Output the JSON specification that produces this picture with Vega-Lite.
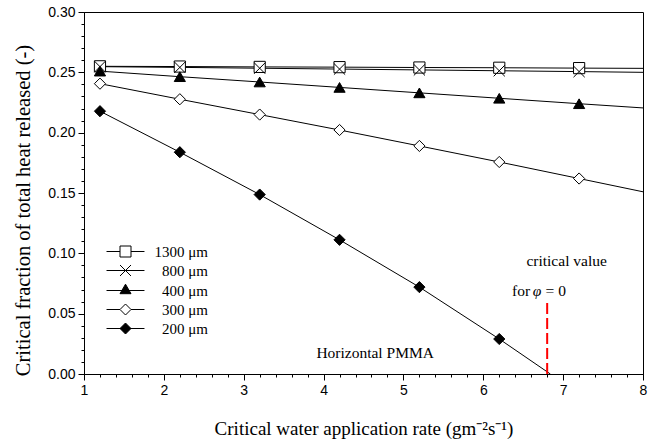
{
  "$schema": "https://vega.github.io/schema/vega-lite/v6.json",
  "width": 559,
  "height": 362,
  "autosize": "none",
  "padding": {"left": 84, "top": 12, "right": 16, "bottom": 69},
  "background": "white",
  "config": {
    "view": {"stroke": "black", "strokeWidth": 1},
    "axis": {
      "grid": false,
      "domainColor": "black",
      "tickColor": "black",
      "labelColor": "black",
      "titleColor": "black",
      "labelFont": "Liberation Sans",
      "labelFontSize": 14,
      "titleFont": "Liberation Serif",
      "titleFontSize": 19,
      "titleFontWeight": "normal"
    }
  },
  "datasets": {
    "curves": [
      {"d": "1300 μm", "x": 1.2, "y": 0.2550},
      {"d": "1300 μm", "x": 2.2, "y": 0.2548},
      {"d": "1300 μm", "x": 3.2, "y": 0.2545},
      {"d": "1300 μm", "x": 4.2, "y": 0.2543},
      {"d": "1300 μm", "x": 5.2, "y": 0.2540},
      {"d": "1300 μm", "x": 6.2, "y": 0.2538},
      {"d": "1300 μm", "x": 7.2, "y": 0.2535},
      {"d": "1300 μm", "x": 8, "y": 0.2533, "end": true},
      {"d": "800 μm", "x": 1.2, "y": 0.2547},
      {"d": "800 μm", "x": 2.2, "y": 0.2541},
      {"d": "800 μm", "x": 3.2, "y": 0.2534},
      {"d": "800 μm", "x": 4.2, "y": 0.2527},
      {"d": "800 μm", "x": 5.2, "y": 0.2520},
      {"d": "800 μm", "x": 6.2, "y": 0.2513},
      {"d": "800 μm", "x": 7.2, "y": 0.2506},
      {"d": "800 μm", "x": 8, "y": 0.2500, "end": true},
      {"d": "400 μm", "x": 1.2, "y": 0.2510},
      {"d": "400 μm", "x": 2.2, "y": 0.2464},
      {"d": "400 μm", "x": 3.2, "y": 0.2420},
      {"d": "400 μm", "x": 4.2, "y": 0.2375},
      {"d": "400 μm", "x": 5.2, "y": 0.2330},
      {"d": "400 μm", "x": 6.2, "y": 0.2285},
      {"d": "400 μm", "x": 7.2, "y": 0.2240},
      {"d": "400 μm", "x": 8, "y": 0.2205, "end": true},
      {"d": "300 μm", "x": 1.2, "y": 0.2406},
      {"d": "300 μm", "x": 2.2, "y": 0.2277},
      {"d": "300 μm", "x": 3.2, "y": 0.2150},
      {"d": "300 μm", "x": 4.2, "y": 0.2022},
      {"d": "300 μm", "x": 5.2, "y": 0.1890},
      {"d": "300 μm", "x": 6.2, "y": 0.1757},
      {"d": "300 μm", "x": 7.2, "y": 0.1620},
      {"d": "300 μm", "x": 8, "y": 0.1510, "end": true},
      {"d": "200 μm", "x": 1.2, "y": 0.2178},
      {"d": "200 μm", "x": 2.2, "y": 0.1838},
      {"d": "200 μm", "x": 3.2, "y": 0.1487},
      {"d": "200 μm", "x": 4.2, "y": 0.1112},
      {"d": "200 μm", "x": 5.2, "y": 0.0720},
      {"d": "200 μm", "x": 6.2, "y": 0.0290},
      {"d": "200 μm", "x": 6.84, "y": 0.0, "end": true}
    ]
  },
  "resolve": {
    "scale": {"shape": "independent", "fill": "independent"},
    "axis": {"x": "independent", "y": "independent"}
  },
  "layer": [
    {
      "data": {"name": "curves"},
      "mark": {"type": "line", "color": "black", "strokeWidth": 1},
      "encoding": {
        "x": {
          "field": "x", "type": "quantitative",
          "scale": {"domain": [1, 8], "nice": false, "zero": false},
          "axis": {
            "orient": "bottom",
            "title": "Critical water application rate (gm⁻²s⁻¹)",
            "values": [1, 2, 3, 4, 5, 6, 7, 8],
            "format": "d",
            "tickSize": 6,
            "labelPadding": 3,
            "titlePadding": 22,
            "labelOverlap": false,
            "labelFlush": false
          }
        },
        "y": {
          "field": "y", "type": "quantitative",
          "scale": {"domain": [0, 0.3], "nice": false},
          "axis": {
            "orient": "left",
            "title": "Critical fraction of total heat released (-)",
            "titleFontSize": 20.5,
            "values": [0, 0.05, 0.1, 0.15, 0.2, 0.25, 0.3],
            "format": ".2f",
            "tickSize": 6,
            "labelPadding": 3,
            "titleAngle": -90,
            "titleAlign": "center",
            "titleBaseline": "middle",
            "titleX": -61,
            "titleY": 198,
            "labelOverlap": false,
            "labelFlush": false
          }
        },
        "detail": {"field": "d"}
      }
    },
    {
      "data": {"name": "curves"},
      "transform": [{"filter": "!datum.end"}],
      "mark": {"type": "point", "filled": true, "stroke": "black", "strokeWidth": 1, "size": 125, "opacity": 1},
      "encoding": {
        "x": {
          "field": "x", "type": "quantitative",
          "axis": {
            "orient": "bottom",
            "values": [1,1.2,1.4,1.6,1.8,2,2.2,2.4,2.6,2.8,3,3.2,3.4,3.6,3.8,4,4.2,4.4,4.6,4.8,5,5.2,5.4,5.6,5.8,6,6.2,6.4,6.6,6.8,7,7.2,7.4,7.6,7.8,8],
            "labels": false,
            "domain": false,
            "title": null,
            "tickSize": 3
          }
        },
        "y": {
          "field": "y", "type": "quantitative",
          "axis": {
            "orient": "left",
            "values": [0,0.01,0.02,0.03,0.04,0.05,0.06,0.07,0.08,0.09,0.1,0.11,0.12,0.13,0.14,0.15,0.16,0.17,0.18,0.19,0.2,0.21,0.22,0.23,0.24,0.25,0.26,0.27,0.28,0.29,0.3],
            "labels": false,
            "domain": false,
            "title": null,
            "tickSize": 3
          }
        },
        "shape": {
          "field": "d", "type": "nominal",
          "scale": {"domain": ["1300 μm", "800 μm", "400 μm", "300 μm", "200 μm"], "range": ["square", "M-1,-1L1,1M-1,1L1,-1", "triangle-up", "diamond", "diamond"]},
          "legend": null
        },
        "fill": {
          "field": "d", "type": "nominal",
          "scale": {"domain": ["1300 μm", "800 μm", "400 μm", "300 μm", "200 μm"], "range": ["white", "white", "black", "white", "black"]},
          "legend": null
        }
      }
    },
    {
      "data": {"values": [{"x": 6.8, "y": 0, "y2": 0.059}]},
      "mark": {"type": "rule", "color": "#ff0000", "strokeWidth": 2, "strokeDash": [11, 4]},
      "encoding": {
        "x": {"field": "x", "type": "quantitative", "axis": null},
        "y": {"field": "y", "type": "quantitative", "axis": null},
        "y2": {"field": "y2"}
      }
    },
    {
      "data": {"values": [
        {"x": 6.54, "y": 0.0938, "t": "critical value"},
        {"x": 6.36, "y": 0.0689, "t": "for"},
        {"x": 6.78, "y": 0.0689, "t": "= 0"},
        {"x": 3.91, "y": 0.0174, "t": "Horizontal PMMA"}
      ]},
      "mark": {"type": "text", "font": "Liberation Serif", "fontSize": 15.5, "align": "left", "baseline": "middle", "color": "black"},
      "encoding": {
        "x": {"field": "x", "type": "quantitative", "axis": null},
        "y": {"field": "y", "type": "quantitative", "axis": null},
        "text": {"field": "t"}
      }
    },
    {
      "data": {"values": [{"x": 6.62, "y": 0.0689, "t": "φ"}]},
      "mark": {"type": "text", "font": "Liberation Serif", "fontSize": 15.5, "fontStyle": "italic", "align": "left", "baseline": "middle", "color": "black"},
      "encoding": {
        "x": {"field": "x", "type": "quantitative", "axis": null},
        "y": {"field": "y", "type": "quantitative", "axis": null},
        "text": {"field": "t"}
      }
    },
    {
      "data": {"name": "curves"},
      "transform": [{"filter": "datum.x > 100"}],
      "mark": {"type": "point", "filled": true, "stroke": "black", "strokeWidth": 1, "opacity": 1},
      "encoding": {
        "x": {"field": "x", "type": "quantitative", "axis": null},
        "y": {"field": "y", "type": "quantitative", "axis": null},
        "shape": {
          "field": "d", "type": "nominal",
          "scale": {
            "domain": ["1300 μm", "800 μm", "400 μm", "300 μm", "200 μm"],
            "range": [
              "M-3.45,0H-1M1,0H3.45M-1,-1H1V1H-1Z",
              "M-3.45,0H3.45M-1,-1L1,1M-1,1L1,-1",
              "M-3.45,0H3.45M0,-1.15L1,0.58H-1Z",
              "M-3.45,0H-1M1,0H3.45M-1,0L0,-1L1,0L0,1Z",
              "M-3.45,0H3.45M-1,0L0,-1L1,0L0,1Z"
            ]
          },
          "legend": {
            "title": null,
            "orient": "none",
            "legendX": 34,
            "legendY": 232,
            "padding": 0,
            "symbolSize": 121,
            "symbolStrokeWidth": 1,
            "labelFont": "Liberation Serif",
            "labelFontSize": 15,
            "labelColor": "black",
            "labelAlign": "right",
            "labelOffset": 75,
            "rowPadding": 3
          }
        },
        "fill": {
          "field": "d", "type": "nominal",
          "scale": {"domain": ["1300 μm", "800 μm", "400 μm", "300 μm", "200 μm"], "range": ["white", "white", "black", "white", "black"]},
          "legend": {
            "title": null,
            "orient": "none",
            "legendX": 34,
            "legendY": 232,
            "padding": 0,
            "symbolSize": 121,
            "symbolStrokeWidth": 1,
            "labelFont": "Liberation Serif",
            "labelFontSize": 15,
            "labelColor": "black",
            "labelAlign": "right",
            "labelOffset": 75,
            "rowPadding": 3
          }
        }
      }
    }
  ]
}
